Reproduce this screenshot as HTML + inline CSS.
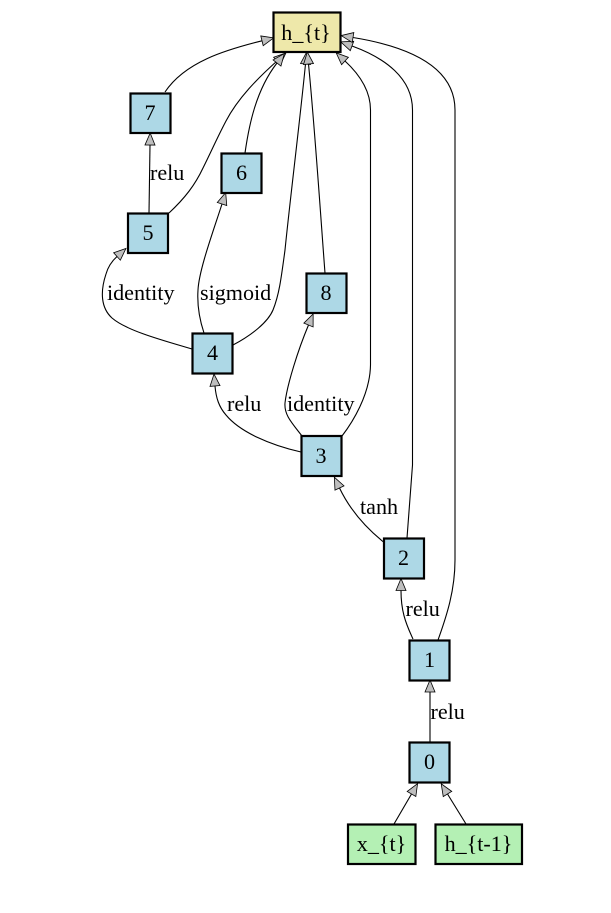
<!DOCTYPE html>
<html>
<head>
<meta charset="utf-8">
<style>
html,body{margin:0;padding:0;background:#fff;}
svg{display:block;}
text{font-family:"Liberation Serif",serif;font-size:22.1px;fill:#000;}
.m{text-anchor:middle;}
.e{fill:none;stroke:#000;stroke-width:1.1;marker-end:url(#a);}
.n{stroke:#000;stroke-width:2.2;}
.b{fill:#add8e6;}
.y{fill:#eee8aa;}
.g{fill:#b4f0b4;}
</style>
</head>
<body>
<svg width="611" height="913" viewBox="0 0 611 913" xmlns="http://www.w3.org/2000/svg">
<defs>
<marker id="a" markerUnits="userSpaceOnUse" markerWidth="16" markerHeight="14" refX="0" refY="5.5" orient="auto" overflow="visible">
<polygon points="0,0.5 12,5.5 0,10.5" fill="#bebebe" stroke="#000" stroke-width="0.8"/>
</marker>
</defs>
<rect width="611" height="913" fill="#fff"/>

<!-- edges -->
<path class="e" d="M165,92 C185,62 225,50 262,40.8"/>
<path class="e" d="M169,213 C185,198 195,185 203,168 C212,150 217,138 226,121 C238,98 258,78 277,61"/>
<path class="e" d="M245,153 C249,125 256,90 277,63"/>
<path class="e" d="M233,345 C252,335 268,322 273,310 C279,295 281,280 285,250 C290,200 300,120 305.5,64"/>
<path class="e" d="M325,273 C322,235 315,130 308.5,64"/>
<path class="e" d="M342,436 C352,423 370,395 370.5,365 L370.5,110 C370.5,90 358,73 345,61"/>
<path class="e" d="M407,538 L412.5,465 L412.5,110 C412.5,78 385,58 352,46"/>
<path class="e" d="M438,640 C447,615 455,590 455,560 L455,110 C455,65 405,46 353,37.5"/>
<path class="e" d="M192,349 C165,341 127,331 112,318 C101,308 100,292 106,274 C108,267 112,261 117,256.5"/>
<path class="e" d="M204,333 C199,318 197,305 198,290 C199,270 213,232 222,204"/>
<path class="e" d="M302,436 C292,423 284,415 285,403 C287,385 298,350 308.5,325"/>
<path class="e" d="M301,452 C270,445 240,432 226,415 C219,407 216,398 215,386"/>
<path class="e" d="M383.5,542 C365,527 350,510 339.5,488"/>
<path class="e" d="M413,639 C405,622 401,610 401,590.5"/>
<path class="e" d="M430,742 L430,692"/>
<path class="e" d="M149,213 L150,145"/>
<path class="e" d="M394,824 L411.5,794"/>
<path class="e" d="M466,824 L447.5,794"/>

<!-- nodes -->
<rect class="n y" x="273.5" y="12.5" width="67" height="39.5"/>
<text class="m" x="306" y="40">h_{t}</text>
<rect class="n b" x="130.5" y="93.5" width="40" height="39.5"/>
<text class="m" x="150" y="120">7</text>
<rect class="n b" x="221.5" y="153.5" width="40" height="39.5"/>
<text class="m" x="241.5" y="180">6</text>
<rect class="n b" x="128" y="213.5" width="40" height="39.5"/>
<text class="m" x="148" y="240">5</text>
<rect class="n b" x="306.5" y="273.5" width="40" height="39.5"/>
<text class="m" x="326" y="300">8</text>
<rect class="n b" x="192.5" y="333.5" width="40" height="40"/>
<text class="m" x="212.5" y="360">4</text>
<rect class="n b" x="301.5" y="436" width="40" height="40"/>
<text class="m" x="321" y="463">3</text>
<rect class="n b" x="384" y="538.5" width="40" height="40"/>
<text class="m" x="403.5" y="565">2</text>
<rect class="n b" x="409.5" y="640.5" width="40" height="40"/>
<text class="m" x="429.5" y="667">1</text>
<rect class="n b" x="409.5" y="742.5" width="40" height="40"/>
<text class="m" x="429.5" y="769">0</text>
<rect class="n g" x="348" y="824.5" width="67.5" height="39.5"/>
<text class="m" x="381.5" y="851">x_{t}</text>
<rect class="n g" x="435.5" y="824.5" width="86.5" height="39.5"/>
<text class="m" x="478.5" y="851">h_{t-1}</text>

<!-- labels -->
<text x="150" y="180">relu</text>
<text x="107" y="300">identity</text>
<text x="200" y="300">sigmoid</text>
<text x="227" y="411">relu</text>
<text x="287" y="411">identity</text>
<text x="360" y="514">tanh</text>
<text x="405.5" y="616">relu</text>
<text x="430.5" y="719">relu</text>
</svg>
</body>
</html>
